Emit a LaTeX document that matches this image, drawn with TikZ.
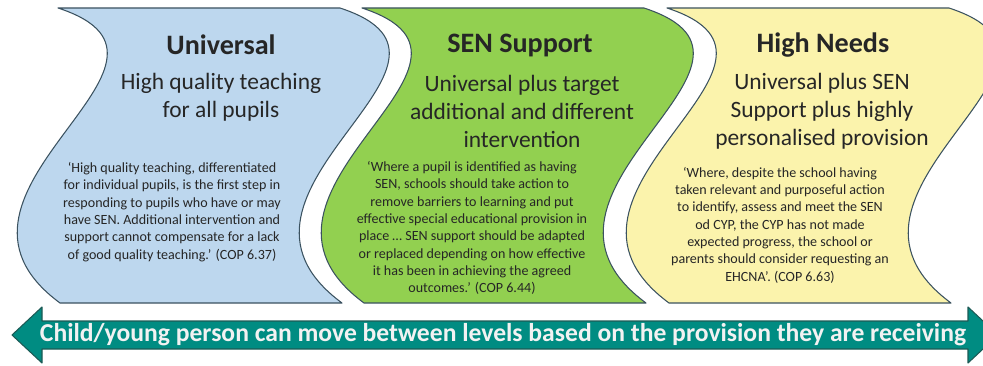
\documentclass[tikz,border=0pt]{standalone}
\usepackage{fontspec}
\setmainfont{Carlito}
\usepackage{graphicx}

\definecolor{univblue}{HTML}{BDD7EE}
\definecolor{sengreen}{HTML}{92D050}
\definecolor{needyellow}{HTML}{FBF3AC}
\definecolor{waveline}{HTML}{3B5260}
\definecolor{arrowteal}{HTML}{008C82}
\definecolor{arrowline}{HTML}{1C5A55}
\definecolor{textgrey}{HTML}{262626}

\tikzset{
  wave/.style={draw=waveline, line width=0.9pt, line join=round},
  leveltitle/.style={font=\bfseries\fontsize{24}{28}\selectfont, text=textgrey},
  levelsub/.style={font=\fontsize{20}{23.9}\selectfont, align=center, text=textgrey},
  levelquote/.style={font=\fontsize{12}{14.8}\selectfont, align=center, text=textgrey},
}

\begin{document}
\begin{tikzpicture}[x=0.03cm,y=-0.03cm]
    \useasboundingbox (0,0) rectangle (983,366);
    \clip (0,0) rectangle (983,366);

    % Waves
    \foreach \l/\c in {58/univblue, 362/sengreen, 667/needyellow}{
        \filldraw[wave, fill=\c] (\l,8) .. controls (\l+165,62) and (\l-150,191) .. (\l+2,303)
            -- (\l+284,303) .. controls (\l+132,191) and (\l+447,62) .. (\l+282,8) -- cycle;
    }

    % Universal
    \node[leveltitle] (univ) at (221,45) {Universal};
    \node[levelsub] (univsub) at (221,97) {High quality teaching\\for all pupils};
    \node[levelquote] (univquote) at (172,212) {‘High quality teaching, differentiated\\for individual pupils, is the first step in\\responding to pupils who have or may\\have SEN. Additional intervention and\\support cannot compensate for a lack\\of good quality teaching.’ (COP 6.37)};

    % SEN Support
    \node[leveltitle] (sen) at (520,45) {SEN Support};
    \node[levelsub] (sensub) at (522,111) {Universal plus target\\additional and different\\intervention};
    \node[levelquote] (senquote) at (472,228) {‘Where a pupil is identified as having\\SEN, schools should take action to\\remove barriers to learning and put\\effective special educational provision in\\place … SEN support should be adapted\\or replaced depending on how effective\\it has been in achieving the agreed\\outcomes.’ (COP 6.44)};

    % High Needs
    \node[leveltitle] (high) at (823,45) {High Needs};
    \node[levelsub] (highsub) at (822,111) {Universal plus SEN\\Support plus highly\\personalised provision};
    \node[levelquote] (highquote) at (780,225) {‘Where, despite the school having\\taken relevant and purposeful action\\to identify, assess and meet the SEN\\od CYP, the CYP has not made\\expected progress, the school or\\parents should consider requesting an\\EHCNA’. (COP 6.63)};

    % Arrow
    \filldraw[fill=arrowteal, draw=arrowline, line width=0.9pt, line join=round]
        (12,335) -- (42,307) -- (42,321) -- (968,321) -- (968,307) -- (998,335)
        -- (968,363) -- (968,349) -- (42,349) -- (42,363) -- cycle;
    \node[font=\bfseries\fontsize{22}{24}\selectfont, text=white!95!black] (move) at (503,335)
        {\resizebox{27.78cm}{\height}{Child/young person can move between levels based on the provision they are receiving}};
\end{tikzpicture}
\end{document}
